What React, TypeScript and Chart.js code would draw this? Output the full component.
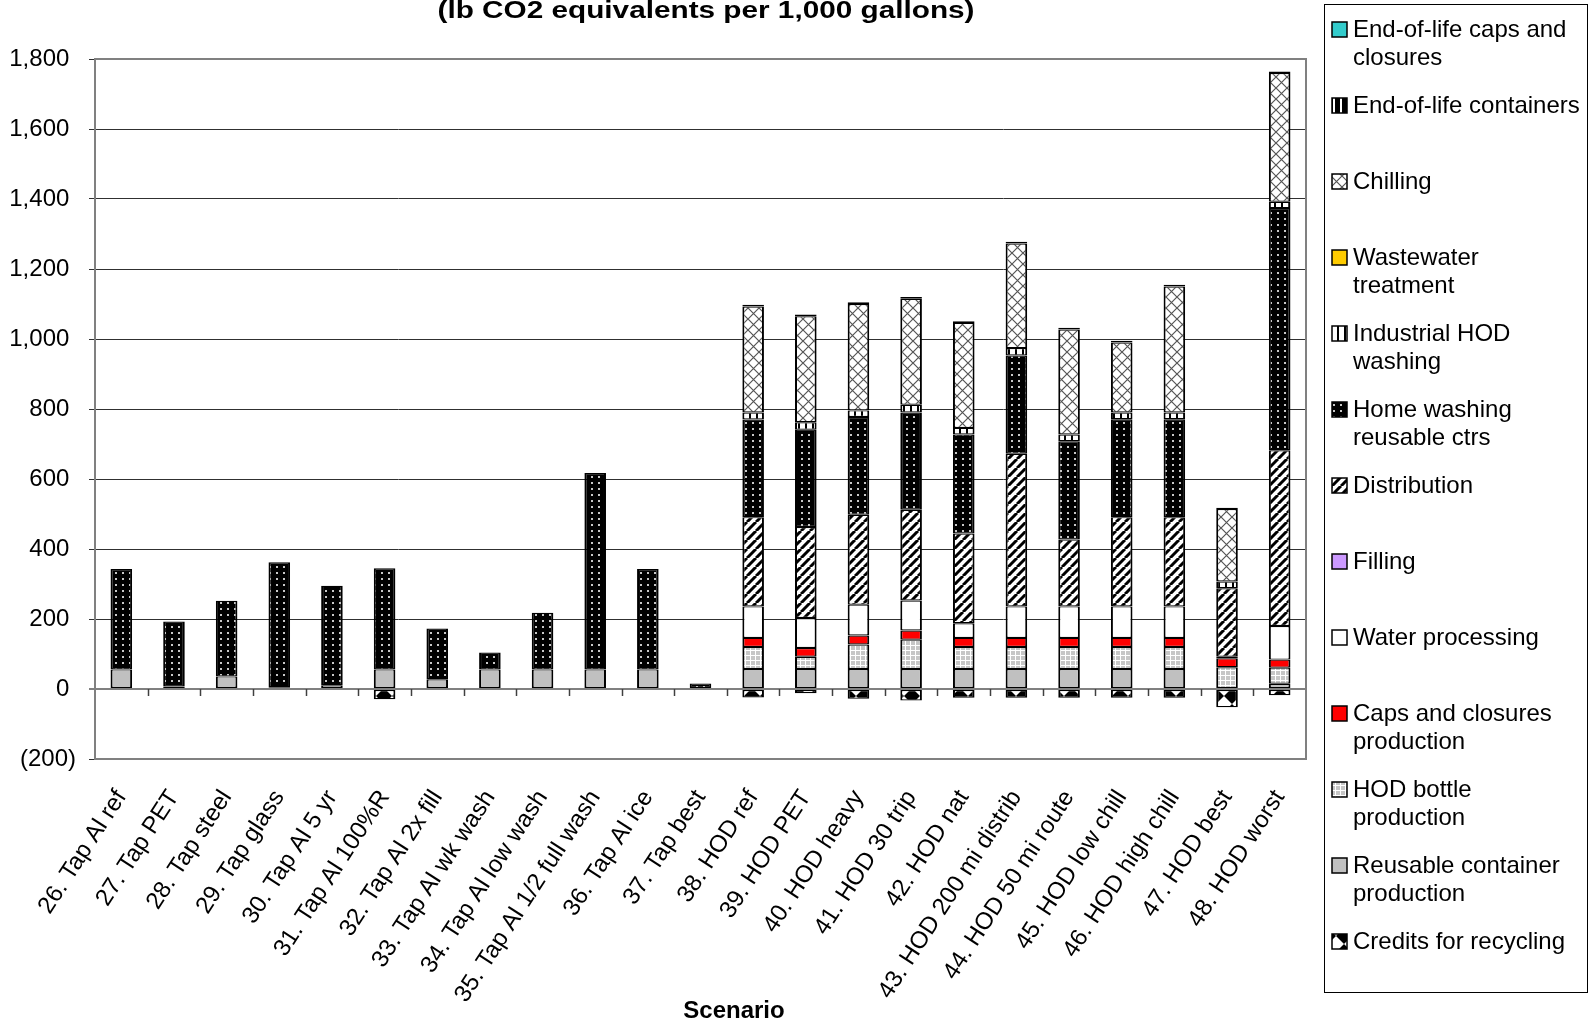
import React, { useEffect, useRef } from 'react';
import { Chart, registerables } from 'chart.js';

Chart.register(...registerables);

const FONT = "'Liberation Sans', Arial, sans-serif";

const titleText = '(lb CO2 equivalents per 1,000 gallons)';
const xAxisTitle = 'Scenario';

const categories = [
  '26. Tap Al ref', '27. Tap PET', '28. Tap steel', '29. Tap glass', '30. Tap Al 5 yr',
  '31. Tap Al 100%R', '32. Tap Al 2x fill', '33. Tap Al wk wash', '34. Tap Al low wash',
  '35. Tap Al 1/2 full wash', '36. Tap Al ice', '37. Tap best', '38. HOD ref', '39. HOD PET',
  '40. HOD heavy', '41. HOD 30 trip', '42. HOD nat', '43. HOD 200 mi distrib',
  '44. HOD 50 mi route', '45. HOD low chill', '46. HOD high chill', '47. HOD best', '48. HOD worst',
];

// y-axis ticks
const yMin = -200;
const yMax = 1800;
const yStep = 200;

// series values (lb CO2 eq per 1,000 gallons), stack order bottom -> top
const credits = [0, 0, 0, 0, 0, -29, 0, 0, 0, 0, 0, 0, -24, -12, -28, -33, -25, -25, -25, -25, -25, -52, -18];
const reusable = [56, 7, 36, 5, 11, 56, 28, 56, 56, 56, 56, 0, 57, 57, 57, 57, 57, 57, 57, 57, 57, 0, 15];
const hodBottle = [0, 0, 0, 0, 0, 0, 0, 0, 0, 0, 0, 0, 63, 35, 70, 84, 63, 63, 63, 63, 63, 62, 46];
const capsProd = [0, 0, 0, 0, 0, 0, 0, 0, 0, 0, 0, 0, 26, 25, 26, 26, 26, 26, 26, 26, 26, 26, 23];
const waterProc = [0, 0, 0, 0, 0, 0, 0, 0, 0, 0, 0, 0, 90, 86, 88, 86, 42, 90, 90, 90, 90, 4, 96];
const filling = [0, 0, 0, 0, 0, 0, 0, 0, 0, 0, 0, 0, 0, 0, 0, 0, 0, 0, 0, 0, 0, 0, 0];
const distribution = [0, 0, 0, 0, 0, 0, 0, 0, 0, 0, 0, 0, 255, 260, 257, 259, 256, 436, 191, 255, 255, 196, 502];
const homeWash = [287, 186, 216, 357, 284, 289, 145, 48, 162, 561, 287, 16, 279, 278, 279, 278, 283, 281, 281, 280, 280, 0, 692];
const industrialWash = [0, 0, 0, 0, 0, 0, 0, 0, 0, 0, 0, 0, 20, 21, 19, 22, 19, 21, 19, 19, 19, 19, 18];
const wastewater = [0, 0, 0, 0, 0, 0, 0, 0, 0, 0, 0, 0, 0, 0, 0, 0, 0, 0, 0, 0, 0, 0, 0];
const chilling = [0, 0, 0, 0, 0, 0, 0, 0, 0, 0, 0, 0, 303, 303, 304, 303, 300, 299, 300, 200, 360, 207, 368];
const eolContainers = [0, 0, 0, 0, 0, 0, 0, 0, 0, 0, 0, 0, 5, 5, 5, 5, 5, 5, 5, 5, 5, 4, 4];
const eolCaps = [0, 0, 0, 0, 0, 0, 0, 0, 0, 0, 0, 0, 0, 0, 0, 0, 0, 0, 0, 0, 0, 0, 0];

const seriesNames = [
  'Credits for recycling', 'Reusable container production', 'HOD bottle production',
  'Caps and closures production', 'Water processing', 'Filling', 'Distribution',
  'Home washing reusable ctrs', 'Industrial HOD washing', 'Wastewater treatment', 'Chilling',
  'End-of-life containers', 'End-of-life caps and closures',
];
const seriesValues = [
  credits, reusable, hodBottle, capsProd, waterProc, filling, distribution,
  homeWash, industrialWash, wastewater, chilling, eolContainers, eolCaps,
];
// legend text (wrapped as in the original), in stack order
const legendLines = [
  ['Credits for recycling'], ['Reusable container', 'production'], ['HOD bottle', 'production'],
  ['Caps and closures', 'production'], ['Water processing'], ['Filling'], ['Distribution'],
  ['Home washing', 'reusable ctrs'], ['Industrial HOD', 'washing'], ['Wastewater', 'treatment'],
  ['Chilling'], ['End-of-life containers'], ['End-of-life caps and', 'closures'],
];

type Painter = (g: CanvasRenderingContext2D, w: number, h: number) => void;

function tile(ctx: CanvasRenderingContext2D, w: number, h: number, draw: Painter): CanvasPattern {
  const c = document.createElement('canvas');
  c.width = w;
  c.height = h;
  const g = c.getContext('2d') as CanvasRenderingContext2D;
  draw(g, w, h);
  return ctx.createPattern(c, 'repeat') as CanvasPattern;
}

function makeFills(ctx: CanvasRenderingContext2D): (string | CanvasPattern)[] {
  const creditsP = tile(ctx, 16, 16, (g, w, h) => {
    g.fillStyle = '#fff'; g.fillRect(0, 0, w, h);
    g.fillStyle = '#000';
    g.beginPath(); g.moveTo(0, 0); g.lineTo(0, h); g.lineTo(w / 2, h / 2); g.closePath(); g.fill();
    g.beginPath(); g.moveTo(w, 0); g.lineTo(w, h); g.lineTo(w / 2, h / 2); g.closePath(); g.fill();
  });
  const hodP = tile(ctx, 5, 5, (g, w, h) => {
    g.fillStyle = '#ffffff'; g.fillRect(0, 0, w, h);
    g.fillStyle = '#c6c6c6'; g.fillRect(1, 1, 4, 4);
  });
  const distP = tile(ctx, 9, 9, (g, w, h) => {
    g.fillStyle = '#fff'; g.fillRect(0, 0, w, h);
    g.strokeStyle = '#000'; g.lineWidth = 3;
    for (const o of [-w, 0, w]) {
      g.beginPath(); g.moveTo(o, h); g.lineTo(o + w, 0); g.stroke();
    }
  });
  const homeP = tile(ctx, 7, 6, (g, w, h) => {
    g.fillStyle = '#000'; g.fillRect(0, 0, w, h);
    g.fillStyle = '#c8c8c8'; g.fillRect(3, 2, 2, 2);
  });
  const indP = tile(ctx, 7, 4, (g, w, h) => {
    g.fillStyle = '#fff'; g.fillRect(0, 0, w, h);
    g.fillStyle = '#000'; g.fillRect(0, 0, 2, h);
  });
  const chillP = tile(ctx, 11, 11, (g, w, h) => {
    g.fillStyle = '#fff'; g.fillRect(0, 0, w, h);
    g.strokeStyle = '#555'; g.lineWidth = 1.2;
    g.beginPath(); g.moveTo(0, 0); g.lineTo(w, h); g.moveTo(w, 0); g.lineTo(0, h); g.stroke();
  });
  const eolP = tile(ctx, 7, 4, (g, w, h) => {
    g.fillStyle = '#000'; g.fillRect(0, 0, w, h);
    g.fillStyle = '#fff'; g.fillRect(3, 0, 2, h);
  });
  return [
    creditsP, '#C0C0C0', hodP, '#FF0000', '#FFFFFF', '#CC99FF', distP,
    homeP, indP, '#FFCC00', chillP, eolP, '#33CCCC',
  ];
}

function fmt(v: number): string {
  return Math.abs(v).toLocaleString('en-US');
}

export default function App() {
  const ref = useRef<HTMLCanvasElement | null>(null);

  useEffect(() => {
    const canvas = ref.current;
    if (!canvas) return;
    const ctx = canvas.getContext('2d') as CanvasRenderingContext2D;
    const fills = makeFills(ctx);

    const decor = {
      id: 'decor',
      afterDraw(chart: any) {
        const c: CanvasRenderingContext2D = chart.ctx;
        const a = chart.chartArea;
        const xs = chart.scales.x;
        const ys = chart.scales.y;
        c.save();
        // plot border
        c.strokeStyle = '#808080';
        c.lineWidth = 2;
        c.strokeRect(a.left, a.top, a.right - a.left, a.bottom - a.top);
        // category tick marks on the zero line
        const y0 = ys.getPixelForValue(0);
        c.strokeStyle = '#404040';
        c.lineWidth = 1.5;
        for (let i = 0; i < categories.length - 1; i++) {
          const px = Math.round((xs.getPixelForValue(i) + xs.getPixelForValue(i + 1)) / 2) + 0.5;
          c.beginPath(); c.moveTo(px, y0); c.lineTo(px, y0 + 7); c.stroke();
        }
        // title (stretched like original)
        c.fillStyle = '#000';
        c.font = `bold 23px ${FONT}`;
        c.textAlign = 'center';
        c.textBaseline = 'alphabetic';
        const tw = c.measureText(titleText).width;
        c.save();
        c.translate(706, 18);
        c.scale(537 / tw, 1);
        c.fillText(titleText, 0, 0);
        c.restore();
        // x axis title
        c.font = `bold 24px ${FONT}`;
        c.fillText(xAxisTitle, 734, 1018);
        // legend box
        c.fillStyle = '#fff';
        c.fillRect(1325, 5, 262, 988);
        c.strokeStyle = '#000';
        c.lineWidth = 1;
        c.strokeRect(1324.5, 4.5, 263, 988);
        c.font = `24px ${FONT}`;
        c.textAlign = 'left';
        c.textBaseline = 'middle';
        const n = seriesNames.length;
        for (let k = 0; k < n; k++) {
          const idx = n - 1 - k;
          const yc = 29.5 + k * 76;
          c.fillStyle = fills[idx] as any;
          c.fillRect(1332, yc - 7.5, 15, 15);
          c.strokeStyle = '#000';
          c.lineWidth = 1.5;
          c.strokeRect(1332, yc - 7.5, 15, 15);
          c.fillStyle = '#000';
          legendLines[idx].forEach((ln, j) => c.fillText(ln, 1353, yc + 1 + j * 27.5));
        }
        c.restore();
      },
    };

    const chart = new Chart(canvas, {
      type: 'bar',
      data: {
        labels: categories,
        datasets: seriesNames.map((name, i) => ({
          label: name,
          data: seriesValues[i],
          backgroundColor: fills[i] as any,
          borderColor: '#000',
          borderWidth: { top: 1.2, bottom: 1.2, left: 2, right: 2 } as any,
          borderSkipped: false,
          barPercentage: 0.41,
          categoryPercentage: 1,
        })),
      },
      options: {
        animation: false,
        responsive: false,
        devicePixelRatio: 1,
        layout: { padding: { left: 0, top: 59, right: 290, bottom: 0 } },
        plugins: {
          legend: { display: false },
          title: { display: false },
          tooltip: { enabled: false },
        },
        scales: {
          x: {
            stacked: true,
            grid: { display: false, drawTicks: false },
            border: { display: true, color: '#808080', width: 2 },
            ticks: {
              autoSkip: false,
              minRotation: 57,
              maxRotation: 57,
              padding: 26,
              color: '#000',
              font: { family: FONT, size: 24 },
            },
            afterFit: (s: any) => { s.height = 265; },
          },
          y: {
            stacked: true,
            min: yMin,
            max: yMax,
            ticks: {
              stepSize: yStep,
              padding: 13,
              color: '#000',
              font: { family: FONT, size: 24 },
              callback: (v: any) => (Number(v) < 0 ? `(${fmt(Number(v))})` : `${fmt(Number(v))} `),
            },
            grid: {
              color: (c: any) => (c.tick && c.tick.value === 0 ? '#808080' : '#303030'),
              lineWidth: (c: any) => (c.tick && c.tick.value === 0 ? 2 : 1),
              tickLength: 6,
            },
            border: { display: true, color: '#808080', width: 2 },
            afterFit: (s: any) => { s.width = 95; },
          },
        },
      },
      plugins: [decor],
    });

    return () => chart.destroy();
  }, []);

  return (
    <div style={{ position: 'absolute', left: 0, top: 0, width: 1596, height: 1024, background: '#fff' }}>
      <canvas ref={ref} width={1596} height={1024} style={{ display: 'block', width: 1596, height: 1024 }} />
    </div>
  );
}
